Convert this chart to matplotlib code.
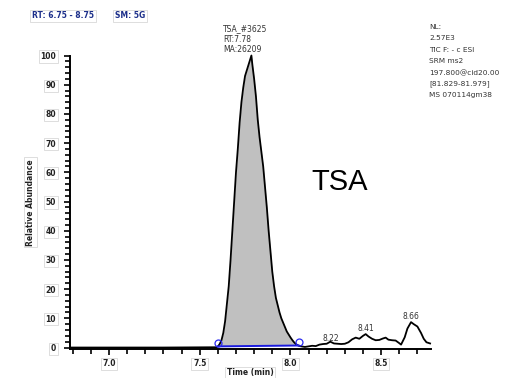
import numpy as np
import matplotlib
matplotlib.use("Agg")
import matplotlib.pyplot as plt
from matplotlib.ticker import MultipleLocator

# ---- data ----
pre_time = [6.79, 7.0, 7.3, 7.59]
pre_abund = [0.0, 0.0, 0.0, 0.1]

peak_time = [7.60, 7.61, 7.62, 7.63, 7.64, 7.65, 7.66, 7.67, 7.68, 7.69,
             7.70, 7.71, 7.72, 7.73, 7.74, 7.75, 7.76, 7.77, 7.785, 7.79,
             7.80, 7.81, 7.82, 7.83, 7.84, 7.85, 7.86, 7.87, 7.88, 7.89,
             7.90, 7.91, 7.92, 7.93, 7.94, 7.95, 7.96, 7.97, 7.98, 7.99,
             8.00, 8.01, 8.02, 8.03, 8.04, 8.05]
peak_abund = [0.3, 1.2, 2.5, 5, 9, 15, 21, 30, 40, 50,
              60, 68, 77, 84, 89, 93, 95, 97, 100, 97,
              92, 86, 78, 72, 67, 62, 55, 48, 40, 33,
              26, 21, 17, 14.5, 12, 10, 8.5, 7, 5.5, 4.5,
              3.5, 2.6, 1.8, 1.2, 0.8, 0.5]

tail_time = [8.06, 8.08, 8.10, 8.12, 8.14, 8.16, 8.18, 8.20, 8.22, 8.24,
             8.26, 8.28, 8.30, 8.32, 8.34, 8.36, 8.38, 8.40, 8.415, 8.43,
             8.45, 8.47, 8.49, 8.51, 8.525, 8.54, 8.56, 8.58, 8.60, 8.61,
             8.63, 8.645, 8.665, 8.68, 8.70, 8.72, 8.735, 8.75, 8.77]
tail_abund = [0.4, 0.2, 0.4, 0.6, 0.5, 1.0, 1.2, 1.3, 2.0, 1.4,
              1.3, 1.2, 1.3, 1.8, 2.8, 3.4, 3.0, 4.0, 4.6, 3.8,
              3.0, 2.5, 2.6, 3.1, 3.4, 2.7, 2.5, 2.4, 1.5, 1.0,
              3.5, 6.5, 8.7, 8.0, 7.2, 5.0, 3.0, 1.8, 1.4]

baseline_time = [7.60, 8.045]
baseline_abund = [0.4, 0.7]

small_peak_labels = ["8.22", "8.41", "8.66"]
small_peak_time = [8.221, 8.414, 8.663]
small_peak_abund = [3.1, 6.5, 10.6]

x_ticks = [7.0, 7.5, 8.0, 8.5]
x_tick_labels = ["7.0", "7.5", "8.0", "8.5"]
y_ticks = [0, 10, 20, 30, 40, 50, 60, 70, 80, 90, 100]

info_lines = ["NL:", "2.57E3", "TIC F: - c ESI", "SRM ms2",
              "197.800@cid20.00", "[81.829-81.979]", "MS 070114gm38"]
peak_info = ["TSA_#3625", "RT:7.78", "MA:26209"]

# ---- figure ----
W, H = 524, 378
fig = plt.figure(figsize=(W / 100, H / 100), dpi=100)
fig.patch.set_facecolor("white")

def px(x, y):
    return x / W, 1 - y / H

l, r = 70 / W, 431 / W
b, t = 1 - 349 / H, 1 - 55.5 / H
ax = fig.add_axes([l, b, r - l, t - b])

all_t = pre_time + peak_time + tail_time
all_a = pre_abund + peak_abund + tail_abund

# gray filled peak area above integration baseline
pt = np.array(peak_time)
pa = np.array(peak_abund)
base = np.interp(pt, baseline_time, baseline_abund)
ax.fill_between(pt, base, np.maximum(pa, base), color="#c0c0c0", lw=0, zorder=1)

ax.plot(all_t, all_a, color="black", lw=1.3, zorder=3, clip_on=False)
ax.plot(baseline_time, baseline_abund, color="#1a1adf", lw=1.4, zorder=4, clip_on=False)
ax.plot(baseline_time, [a + 1.2 for a in baseline_abund], ls="none", marker="o",
        ms=5, mfc="none", mec="#2a2af0", mew=0.9, zorder=5, clip_on=False)

ax.set_xlim(6.785, 8.775)
ax.set_ylim(-0.5, 100)

for s in ["top", "right"]:
    ax.spines[s].set_visible(False)
for s in ["left", "bottom"]:
    ax.spines[s].set_linewidth(1.4)
ax.spines["left"].set_bounds(-0.5, 100)

ax.set_xticks(x_ticks)
ax.set_xticklabels(x_tick_labels)
ax.xaxis.set_minor_locator(MultipleLocator(0.1))
ax.set_yticks(y_ticks)
ax.yaxis.set_minor_locator(MultipleLocator(2))
ax.tick_params(axis="both", which="both", direction="out", width=1.2, color="black")
ax.tick_params(axis="both", which="major", length=4, labelsize=5.5, labelcolor="#222222")
ax.tick_params(axis="y", which="major", pad=6)
ax.tick_params(axis="x", which="major", pad=3.5)
ax.tick_params(axis="both", which="minor", length=3.5)

box = dict(boxstyle="square,pad=0.2", fc="white", ec="#d8d8d8", lw=0.6)
for lab in ax.get_xticklabels() + ax.get_yticklabels():
    lab.set_bbox(box)
    lab.set_fontweight("bold")

ax.set_ylabel("Relative Abundance", fontsize=5.5, fontweight="bold", color="#222222",
              bbox=box)
ax.yaxis.set_label_coords(-0.097, 0.5)
ax.set_xlabel("Time (min)", fontsize=5.5, fontweight="bold", color="#222222",
              bbox=box)
ax.xaxis.set_label_coords((250 - 70) / (431 - 70), -0.066)

for lab, tt, aa in zip(small_peak_labels, small_peak_time, small_peak_abund):
    ax.text(tt, aa, lab, fontsize=5.5, ha="center", va="center", color="#333333")

# header boxes
fig.text(*px(63, 16), "RT: 6.75 - 8.75", fontsize=5.5, fontweight="bold",
         color="#1c2f8a", ha="center", va="center", bbox=box)
fig.text(*px(130, 16), "SM: 5G", fontsize=5.5, fontweight="bold",
         color="#1c2f8a", ha="center", va="center", bbox=box)

# peak annotation
for i, line in enumerate(peak_info):
    fig.text(*px(223, 29 + 10.5 * i), line, fontsize=5.5, color="#333333",
             ha="left", va="center")

# info block
for i, line in enumerate(info_lines):
    fig.text(*px(429, 27 + 11.4 * i), line, fontsize=5.3, color="#333333",
             ha="left", va="center")

fig.text(*px(340, 182), "TSA", fontsize=21, family="Liberation Sans",
         ha="center", va="center", color="black")

fig.savefig("out.png", dpi=100, facecolor="white")
